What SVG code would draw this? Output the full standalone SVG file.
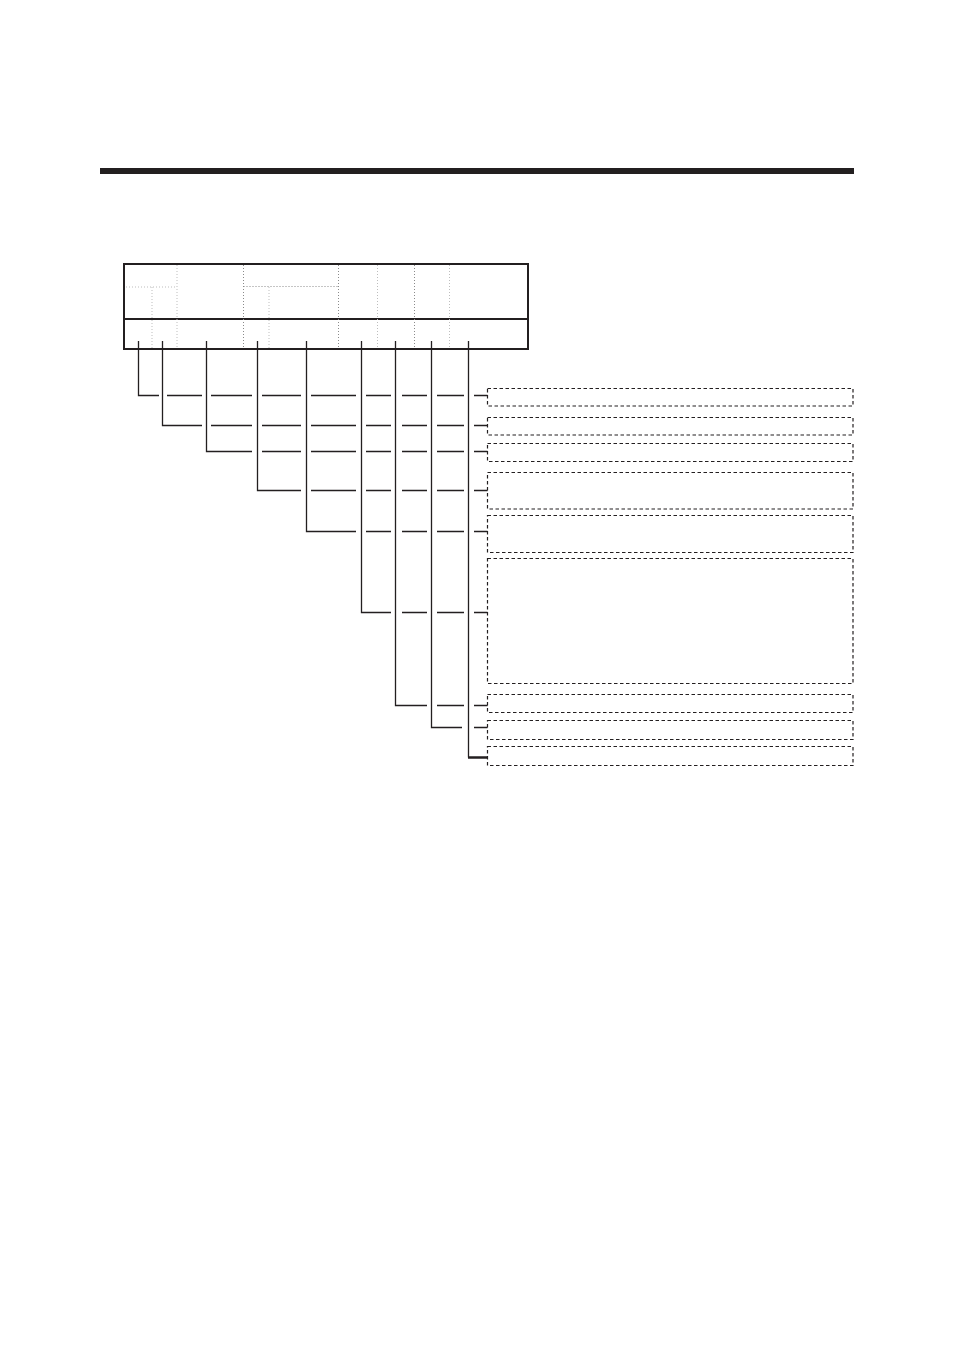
<svg xmlns="http://www.w3.org/2000/svg" width="954" height="1351" viewBox="0 0 954 1351">
<style>
.frame{fill:none;stroke:#231f20;stroke-width:2}
.dotL{stroke:#bdbdbd;stroke-width:1;stroke-dasharray:1 2;fill:none}
.dotD{stroke:#8a8a8a;stroke-width:1;stroke-dasharray:1 2;fill:none}
.ln{stroke:#231f20;stroke-width:1.3;fill:none}
.box{fill:none;stroke:#231f20;stroke-width:1.2;stroke-dasharray:3.5 2.5}
</style>
<rect x="0" y="0" width="954" height="1351" fill="#ffffff"/>
<rect id="title-bar" x="100" y="168" width="754" height="6" fill="#231f20"/>
<g id="panel">
<rect class="frame" x="124" y="264" width="404" height="85"/>
<line class="frame" x1="124" y1="319" x2="528" y2="319"/>
<line class="dotL" x1="126" y1="287" x2="177" y2="287"/>
<line class="dotL" x1="152" y1="287" x2="152" y2="348"/>
<line class="dotL" x1="177" y1="265" x2="177" y2="348"/>
<line class="dotD" x1="243.5" y1="265" x2="243.5" y2="348"/>
<line class="dotD" x1="243.5" y1="286.5" x2="339" y2="286.5"/>
<line class="dotL" x1="269" y1="287" x2="269" y2="348"/>
<line class="dotD" x1="338.5" y1="265" x2="338.5" y2="348"/>
<line class="dotL" x1="377.5" y1="265" x2="377.5" y2="348"/>
<line class="dotD" x1="414.5" y1="265" x2="414.5" y2="348"/>
<line class="dotL" x1="449.5" y1="265" x2="449.5" y2="348"/>
</g>
<g id="connectors">
<path class="ln" d="M138.5 341V395.5H159M167 395.5H202M211 395.5H252M262 395.5H301M311 395.5H356M366 395.5H391M402 395.5H427M437 395.5H464M474 395.5H487.5"/>
<path class="ln" d="M162.5 341V425.5H202M211 425.5H252M262 425.5H301M311 425.5H356M366 425.5H391M402 425.5H427M437 425.5H464M474 425.5H487.5"/>
<path class="ln" d="M206.5 341V451.5H252M262 451.5H301M311 451.5H356M366 451.5H391M402 451.5H427M437 451.5H464M474 451.5H487.5"/>
<path class="ln" d="M257.5 341V490.5H301M311 490.5H356M366 490.5H391M402 490.5H427M437 490.5H464M474 490.5H487.5"/>
<path class="ln" d="M306.5 341V531.5H356M366 531.5H391M402 531.5H427M437 531.5H464M474 531.5H487.5"/>
<path class="ln" d="M361.5 341V612.5H391M402 612.5H427M437 612.5H464M474 612.5H487.5"/>
<path class="ln" d="M395.5 341V705.5H427M437 705.5H464M474 705.5H487.5"/>
<path class="ln" d="M431.5 341V727.5H462M474 727.5H487.5"/>
<path class="ln" d="M468.5 341V757.5"/>
<line x1="468" y1="757.5" x2="487.5" y2="757.5" stroke="#231f20" stroke-width="2.5"/>
</g>
<g id="box1"><rect class="box" x="487.5" y="388.5" width="365.5" height="17.5"/></g>
<g id="box2"><rect class="box" x="487.5" y="417.5" width="365.5" height="17.5"/></g>
<g id="box3"><rect class="box" x="487.5" y="443.5" width="365.5" height="18"/></g>
<g id="box4"><rect class="box" x="487.5" y="472.5" width="365.5" height="36.5"/></g>
<g id="box5"><rect class="box" x="487.5" y="515.5" width="365.5" height="37"/></g>
<g id="box6"><rect class="box" x="487.5" y="558.5" width="365.5" height="125"/></g>
<g id="box7"><rect class="box" x="487.5" y="694.5" width="365.5" height="18"/></g>
<g id="box8"><rect class="box" x="487.5" y="720.5" width="365.5" height="19"/></g>
<g id="box9"><rect class="box" x="487.5" y="746.5" width="365.5" height="19"/></g>
</svg>
